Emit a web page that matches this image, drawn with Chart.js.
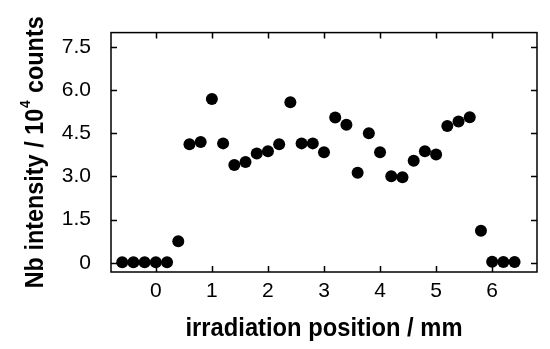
<!DOCTYPE html>
<html>
<head>
<meta charset="utf-8">
<script src="https://cdn.jsdelivr.net/npm/chart.js@4/dist/chart.umd.min.js"></script>
<style>
  html, body { margin: 0; padding: 0; background: #fff; }
  canvas { display: block; }
</style>
</head>
<body>
<canvas id="c" width="550" height="349"></canvas>
<script>
// Data
const positions = [-0.6, -0.4, -0.2, 0.0, 0.2, 0.4, 0.6, 0.8, 1.0, 1.2, 1.4, 1.6, 1.8, 2.0, 2.2, 2.4, 2.6, 2.8,
                   3.0, 3.2, 3.4, 3.6, 3.8, 4.0, 4.2, 4.4, 4.6, 4.8, 5.0, 5.2, 5.4, 5.6, 5.8, 6.0, 6.2, 6.4];
const intensity = [0.02, 0.02, 0.02, 0.02, 0.02, 0.75, 4.12, 4.20, 5.69, 4.15, 3.40, 3.50, 3.80, 3.88, 4.12, 5.58, 4.15, 4.15,
                   3.84, 5.05, 4.80, 3.13, 4.50, 3.84, 3.01, 2.97, 3.55, 3.88, 3.76, 4.75, 4.91, 5.06, 1.11, 0.04, 0.03, 0.03];
const xTicks = [0, 1, 2, 3, 4, 5, 6];
const xTickLabels = ['0', '1', '2', '3', '4', '5', '6'];
const yTicks = [0, 1.5, 3.0, 4.5, 6.0, 7.5];
const yTickLabels = ['0', '1.5', '3.0', '4.5', '6.0', '7.5'];
const xTitle = 'irradiation position / mm';
const yTitleMain = 'Nb intensity / 10';
const yTitleSup = '4';
const yTitleEnd = ' counts';

const points = positions.map((p, i) => ({ x: p, y: intensity[i] }));

const frame = {
  id: 'frame',
  afterDraw(chart) {
    const ctx = chart.ctx;
    const a = chart.chartArea;
    const xs = chart.scales.x, ys = chart.scales.y;
    ctx.save();
    ctx.strokeStyle = '#000';
    ctx.lineWidth = 1.5;
    ctx.strokeRect(a.left, a.top, a.right - a.left, a.bottom - a.top);
    const tl = 6;
    ctx.beginPath();
    xTicks.forEach(v => {
      const px = Math.round(xs.getPixelForValue(v)) + 0.5;
      ctx.moveTo(px, a.bottom); ctx.lineTo(px, a.bottom - tl);
      ctx.moveTo(px, a.top); ctx.lineTo(px, a.top + tl);
    });
    yTicks.forEach(v => {
      const py = Math.round(ys.getPixelForValue(v)) + 0.5;
      ctx.moveTo(a.left, py); ctx.lineTo(a.left + tl, py);
      ctx.moveTo(a.right, py); ctx.lineTo(a.right - tl, py);
    });
    ctx.stroke();

    const mainFont = 'bold 26px "Liberation Sans", Arial, sans-serif';
    const supFont = 'bold 15px "Liberation Sans", Arial, sans-serif';

    // X title
    ctx.fillStyle = '#000';
    ctx.font = mainFont;
    ctx.textAlign = 'left';
    ctx.textBaseline = 'alphabetic';
    const xw = ctx.measureText(xTitle).width;
    const xTarget = 277;
    ctx.save();
    ctx.translate((a.left + a.right) / 2 - xTarget / 2, 336);
    ctx.scale(xTarget / xw, 1);
    ctx.fillText(xTitle, 0, 0);
    ctx.restore();

    // Y title with superscript
    ctx.font = mainFont;
    const w1 = ctx.measureText(yTitleMain).width;
    const w3 = ctx.measureText(yTitleEnd).width;
    ctx.font = supFont;
    const w2 = ctx.measureText(yTitleSup).width + 2;
    const total = w1 + w2 + w3;
    const yTarget = 272;
    ctx.translate(43, (a.top + a.bottom) / 2);
    ctx.rotate(-Math.PI / 2);
    ctx.translate(-yTarget / 2, 0);
    ctx.scale(yTarget / total, 1);
    ctx.textAlign = 'left';
    ctx.font = mainFont;
    ctx.fillText(yTitleMain, 0, 0);
    ctx.font = supFont;
    ctx.fillText(yTitleSup, w1 + 1, -13);
    ctx.font = mainFont;
    ctx.fillText(yTitleEnd, w1 + w2, 0);
    ctx.restore();
  }
};

new Chart(document.getElementById('c'), {
  type: 'scatter',
  data: {
    datasets: [{
      data: points,
      backgroundColor: '#000',
      borderColor: '#000',
      pointRadius: 6,
      pointHoverRadius: 6,
      borderWidth: 0
    }]
  },
  options: {
    responsive: false,
    animation: false,
    devicePixelRatio: 1,
    layout: { padding: { left: 0, right: 13, top: 17, bottom: 0 } },
    plugins: { legend: { display: false }, tooltip: { enabled: false } },
    scales: {
      x: {
        type: 'linear',
        min: -0.8,
        max: 6.8,
        afterBuildTicks: s => { s.ticks = xTicks.map(v => ({ value: v })); },
        afterFit: s => { s.height = 77; },
        grid: { display: false, drawTicks: false, tickLength: 0 },
        border: { display: false },
        ticks: {
          padding: 7,
          color: '#000',
          font: { family: '"Liberation Sans", Arial, sans-serif', size: 21 },
          callback: (v) => { const i = xTicks.indexOf(v); return i >= 0 ? xTickLabels[i] : ''; }
        }
      },
      y: {
        type: 'linear',
        min: -0.32,
        max: 8.0,
        afterBuildTicks: s => { s.ticks = yTicks.map(v => ({ value: v })); },
        afterFit: s => { s.width = 111; },
        grid: { display: false, drawTicks: false, tickLength: 0 },
        border: { display: false },
        ticks: {
          padding: 20,
          color: '#000',
          font: { family: '"Liberation Sans", Arial, sans-serif', size: 21 },
          callback: (v) => { const i = yTicks.indexOf(v); return i >= 0 ? yTickLabels[i] : ''; }
        }
      }
    }
  },
  plugins: [frame]
});
</script>
</body>
</html>
